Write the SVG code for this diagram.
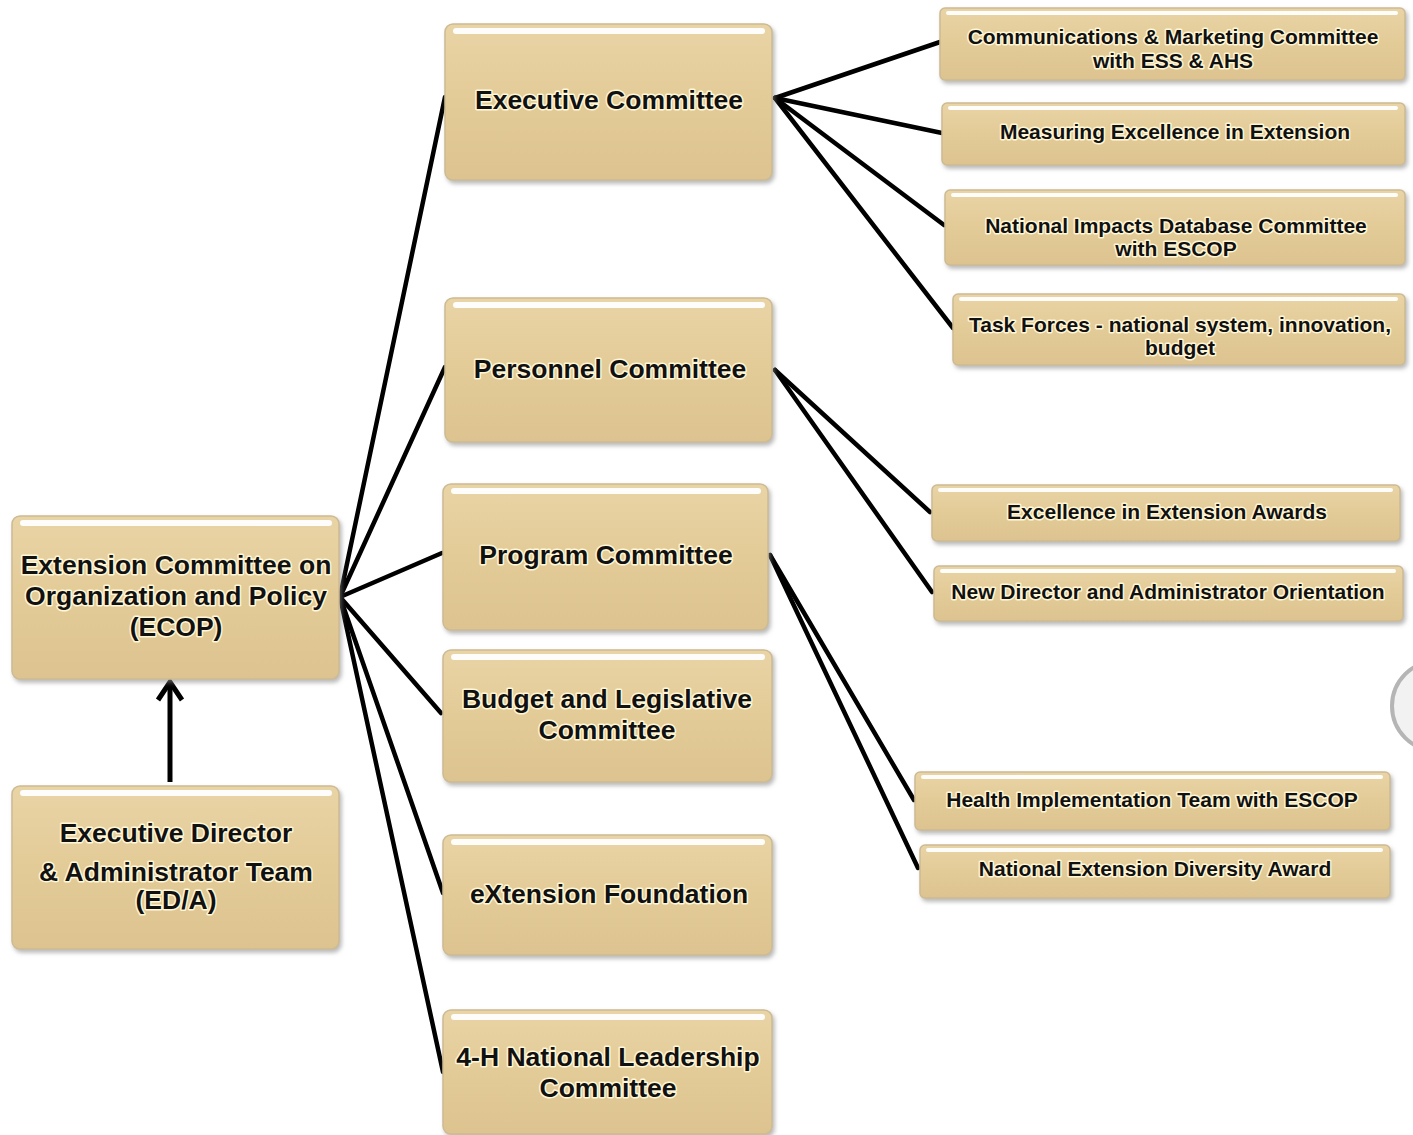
<svg xmlns="http://www.w3.org/2000/svg" width="1413" height="1135" viewBox="0 0 1413 1135">
<defs>
<linearGradient id="tan" x1="0" y1="0" x2="0" y2="1">
<stop offset="0" stop-color="#e9d4a6"/>
<stop offset="0.5" stop-color="#e3cb97"/>
<stop offset="1" stop-color="#dcc390"/>
</linearGradient>
<filter id="sh" x="-5%" y="-10%" width="112%" height="125%">
<feGaussianBlur in="SourceAlpha" stdDeviation="2"/>
<feOffset dx="2" dy="3" result="b"/>
<feFlood flood-color="#8a8a8a" flood-opacity="0.6"/>
<feComposite in2="b" operator="in"/>
<feMerge><feMergeNode/><feMergeNode in="SourceGraphic"/></feMerge>
</filter>
</defs>
<style>
.box{fill:url(#tan);stroke:#cdbb94;stroke-width:1.5;filter:url(#sh)}
.hl{fill:#ffffff;opacity:0.95}
.t{font-family:"Liberation Sans",Arial,sans-serif;font-weight:bold;fill:#111;text-anchor:middle;paint-order:stroke;stroke:#fff6d6;stroke-width:3;stroke-linejoin:round}
.big{font-size:26.5px}
.sm{font-size:21px}
.ln{stroke:#000;stroke-width:4.5;fill:none;stroke-linecap:round}
</style>
<rect width="1413" height="1135" fill="#ffffff"/>
<circle cx="1437" cy="706" r="45" fill="#f2f2f2" stroke="#b5b5b5" stroke-width="4"/>

<g id="connectors">
<line class="ln" x1="340" y1="597" x2="445" y2="97"/>
<line class="ln" x1="340" y1="597" x2="445" y2="367"/>
<line class="ln" x1="340" y1="597" x2="442" y2="553"/>
<line class="ln" x1="340" y1="597" x2="441" y2="713"/>
<line class="ln" x1="340" y1="597" x2="443" y2="893"/>
<line class="ln" x1="340" y1="597" x2="443" y2="1072"/>
<line class="ln" x1="775" y1="98" x2="940" y2="42"/>
<line class="ln" x1="775" y1="98" x2="942" y2="133"/>
<line class="ln" x1="775" y1="98" x2="944" y2="225"/>
<line class="ln" x1="775" y1="98" x2="953" y2="328"/>
<line class="ln" x1="775" y1="370" x2="930" y2="512"/>
<line class="ln" x1="775" y1="370" x2="932" y2="592"/>
<line class="ln" x1="770" y1="555" x2="914" y2="800"/>
<line class="ln" x1="770" y1="555" x2="918" y2="868"/>
<line x1="170" y1="782" x2="170" y2="683" stroke="#000" stroke-width="5"/>
<path d="M158,700 L170,682 L182,700" fill="none" stroke="#000" stroke-width="5" stroke-linejoin="miter"/>
</g>

<g id="ecop">
<rect class="box" x="12" y="516" width="327" height="163" rx="8"/>
<rect class="hl" x="20" y="520" width="312" height="6" rx="3"/>
<text class="t big" x="176" y="574">Extension Committee on</text>
<text class="t big" x="176" y="605">Organization and Policy</text>
<text class="t big" x="176" y="636">(ECOP)</text>
</g>
<g id="eda">
<rect class="box" x="12" y="786" width="327" height="163" rx="8"/>
<rect class="hl" x="20" y="790" width="312" height="6" rx="3"/>
<text class="t big" x="176" y="842">Executive Director</text>
<text class="t big" x="176" y="881">&amp; Administrator Team</text>
<text class="t big" x="176" y="909">(ED/A)</text>
</g>

<g id="executive">
<rect class="box" x="445" y="24" width="327" height="156" rx="8"/>
<rect class="hl" x="453" y="28" width="312" height="6" rx="3"/>
<text class="t big" x="609" y="109">Executive Committee</text>
</g>
<g id="personnel">
<rect class="box" x="445" y="298" width="327" height="144" rx="8"/>
<rect class="hl" x="453" y="302" width="312" height="6" rx="3"/>
<text class="t big" x="610" y="378">Personnel Committee</text>
</g>
<g id="program">
<rect class="box" x="443" y="484" width="325" height="146" rx="8"/>
<rect class="hl" x="451" y="488" width="310" height="6" rx="3"/>
<text class="t big" x="606" y="564">Program Committee</text>
</g>
<g id="budget">
<rect class="box" x="443" y="650" width="329" height="132" rx="8"/>
<rect class="hl" x="451" y="654" width="314" height="6" rx="3"/>
<text class="t big" x="607" y="708">Budget and Legislative</text>
<text class="t big" x="607" y="739">Committee</text>
</g>
<g id="extension">
<rect class="box" x="443" y="835" width="329" height="120" rx="8"/>
<rect class="hl" x="451" y="839" width="314" height="6" rx="3"/>
<text class="t big" x="609" y="903">eXtension Foundation</text>
</g>
<g id="fourh">
<rect class="box" x="443" y="1010" width="329" height="124" rx="8"/>
<rect class="hl" x="451" y="1014" width="314" height="6" rx="3"/>
<text class="t big" x="608" y="1066">4-H National Leadership</text>
<text class="t big" x="608" y="1097">Committee</text>
</g>

<g id="comm">
<rect class="box" x="940" y="8" width="465" height="72" rx="5"/>
<rect class="hl" x="946" y="11" width="452" height="4" rx="2"/>
<text class="t sm" x="1173" y="44">Communications &amp; Marketing Committee</text>
<text class="t sm" x="1173" y="68">with ESS &amp; AHS</text>
</g>
<g id="measuring">
<rect class="box" x="942" y="103" width="463" height="62" rx="5"/>
<rect class="hl" x="948" y="106" width="450" height="4" rx="2"/>
<text class="t sm" x="1175" y="139">Measuring Excellence in Extension</text>
</g>
<g id="impacts">
<rect class="box" x="945" y="190" width="460" height="75" rx="5"/>
<rect class="hl" x="951" y="193" width="447" height="4" rx="2"/>
<text class="t sm" x="1176" y="233">National Impacts Database Committee</text>
<text class="t sm" x="1176" y="256">with ESCOP</text>
</g>
<g id="taskforces">
<rect class="box" x="953" y="294" width="452" height="71" rx="5"/>
<rect class="hl" x="959" y="297" width="439" height="4" rx="2"/>
<text class="t sm" x="1180" y="332">Task Forces - national system, innovation,</text>
<text class="t sm" x="1180" y="355">budget</text>
</g>
<g id="awards">
<rect class="box" x="932" y="485" width="468" height="56" rx="5"/>
<rect class="hl" x="938" y="488" width="455" height="4" rx="2"/>
<text class="t sm" x="1167" y="519">Excellence in Extension Awards</text>
</g>
<g id="orientation">
<rect class="box" x="934" y="566" width="469" height="55" rx="5"/>
<rect class="hl" x="940" y="569" width="456" height="4" rx="2"/>
<text class="t sm" x="1168" y="599">New Director and Administrator Orientation</text>
</g>
<g id="health">
<rect class="box" x="915" y="772" width="475" height="58" rx="5"/>
<rect class="hl" x="921" y="775" width="462" height="4" rx="2"/>
<text class="t sm" x="1152" y="807">Health Implementation Team with ESCOP</text>
</g>
<g id="diversity">
<rect class="box" x="920" y="845" width="470" height="53" rx="5"/>
<rect class="hl" x="926" y="848" width="457" height="4" rx="2"/>
<text class="t sm" x="1155" y="876">National Extension Diversity Award</text>
</g>
</svg>
